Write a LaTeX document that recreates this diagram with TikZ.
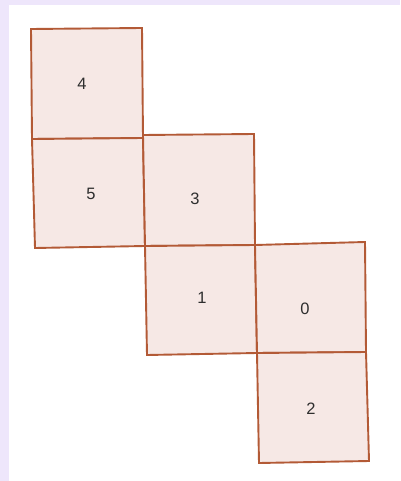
\documentclass[tikz,border=0pt]{standalone}
\usepackage{fontspec}
\setmainfont{Liberation Sans}
\definecolor{lav}{HTML}{EEE6FB}
\definecolor{facefill}{HTML}{F6E8E5}
\definecolor{edge}{HTML}{B35A36}
\definecolor{txt}{HTML}{2E2E2E}
\tikzset{
  face/.style={draw=edge, fill=facefill, line width=1.9pt, line join=miter},
  lbl/.style={text=txt, font=\fontsize{16.5}{18}\selectfont, inner sep=0pt}
}
\begin{document}
\begin{tikzpicture}[x=1pt,y=-1pt]
\useasboundingbox (0,0) rectangle (400,481);
\fill[lav] (0,0) rectangle (400,481);
\fill[white] (9,5) rectangle (400,481);
% vertices
\coordinate (a1) at (31,29);  \coordinate (a2) at (142,28);
\coordinate (b1) at (32,139); \coordinate (b2) at (143,138);
\coordinate (c1) at (35,248); \coordinate (c2) at (145,246);
\coordinate (d1) at (143,135); \coordinate (d2) at (254,134);
\coordinate (e2) at (255,245);
\coordinate (f1) at (147,355); \coordinate (f2) at (257,353);
\coordinate (g2) at (365,242);
\coordinate (h2) at (366,352);
\coordinate (i1) at (259,463); \coordinate (i2) at (369,461);
% faces
\draw[face] (a1) -- (a2) -- (b2) -- (b1) -- cycle;
\draw[face] (b1) -- (b2) -- (c2) -- (c1) -- cycle;
\draw[face] (d1) -- (d2) -- (e2) -- (c2) -- cycle;
\draw[face] (c2) -- (e2) -- (f2) -- (f1) -- cycle;
\draw[face] (e2) -- (g2) -- (h2) -- (f2) -- cycle;
\draw[face] (f2) -- (h2) -- (i2) -- (i1) -- cycle;
% labels
\node[lbl] (n4) at (82,84) {4};
\node[lbl] (n5) at (91,194) {5};
\node[lbl] (n3) at (195,199) {3};
\node[lbl] (n1) at (202,298) {1};
\node[lbl] (n0) at (305,309) {0};
\node[lbl] (n2) at (311,409) {2};
\end{tikzpicture}
\end{document}
